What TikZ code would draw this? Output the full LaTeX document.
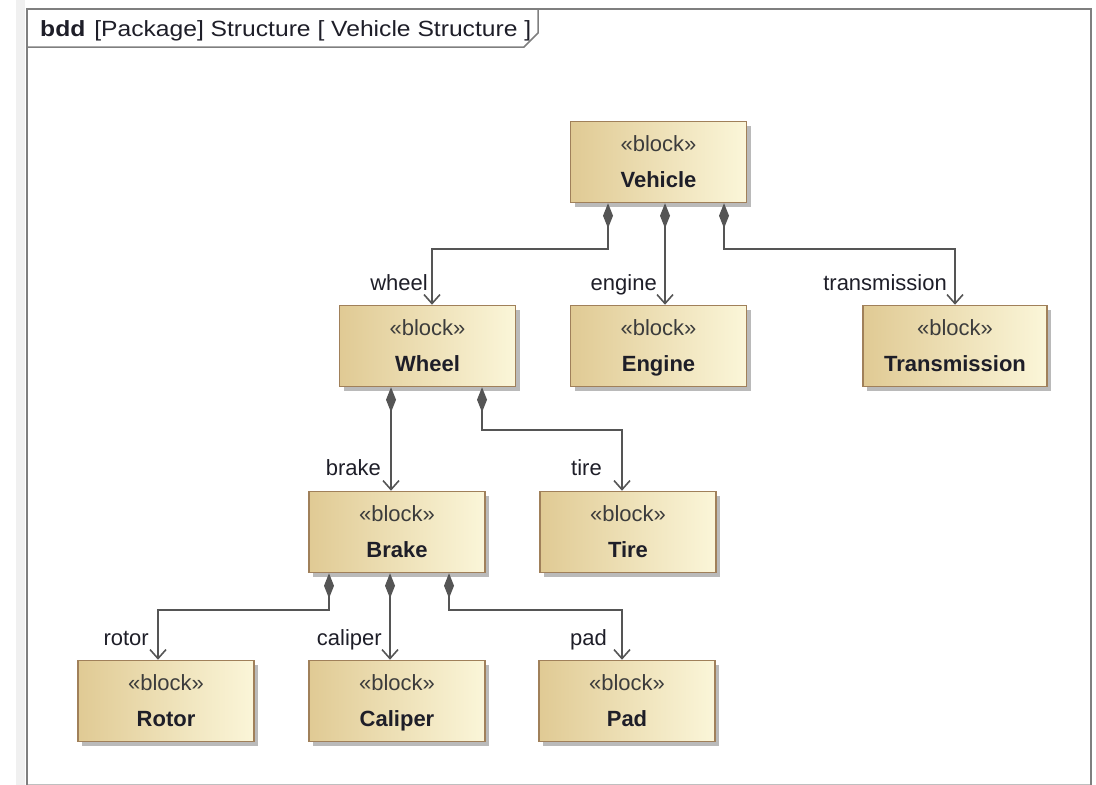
\documentclass[tikz,border=0pt]{standalone}
\usepackage{fontspec}
\setmainfont{Liberation Sans}
\usetikzlibrary{arrows.meta,shadows,calc}
\definecolor{boxL}{HTML}{E0CA94}
\definecolor{boxR}{HTML}{FBF6D9}
\definecolor{boxB}{HTML}{A0805A}
\definecolor{lineC}{HTML}{555555}
\definecolor{frameC}{HTML}{7F7F7F}
\definecolor{stereoC}{HTML}{3C3C3C}
\definecolor{txtC}{HTML}{1E1E28}
\newcommand{\blocktext}[1]{\strut\textcolor{stereoC}{«block»}\\\strut\textbf{#1}}
\begin{document}
\begin{tikzpicture}[x=1pt,y=-1pt,
 blk/.style={rectangle, draw=boxB, line width=1.5pt, left color=boxL, right color=boxR,
   minimum width=176pt, minimum height=81pt, align=center, inner sep=0pt,
   font=\fontsize{22}{36}\selectfont, text=txtC,
   drop shadow={shadow xshift=4pt, shadow yshift=-4pt, fill=black!45, opacity=0.6}},
 comp/.style={draw=lineC, line width=1.6pt,
   {Diamond[length=25pt,width=10pt,fill=lineC]}-{Straight Barb[length=9pt,width=16pt]}},
 lbl/.style={font=\fontsize{22}{26}\selectfont, text=txtC, anchor=base east, inner sep=0pt}]
\useasboundingbox (0,0) rectangle (1096,785);
\fill[black!6] (16,0) rectangle (25,785);
% frame
\draw[black!25, line width=1pt] (27,784) -- (1091,784);
\draw[frameC, line width=2pt] (27,785) -- (27,9) -- (1091,9) -- (1091,785);
\draw[frameC, line width=1.5pt] (27,47) -- (524,47) -- (538,33) -- (538,9);
\node[anchor=base west, inner sep=0pt, font=\fontsize{22}{24}\selectfont, text=txtC] (hdr) at (40,36)
  {\scalebox{1.12}[1]{\textbf{bdd}\hspace{8pt}[Package] Structure [ Vehicle Structure ]}};
% blocks
\node[blk] (vehicle) at (658.5,162) {\blocktext{Vehicle}};
\node[blk] (wheel) at (427.5,346) {\blocktext{Wheel}};
\node[blk] (engine) at (658.5,346) {\blocktext{Engine}};
\node[blk, minimum width=184pt] (transmission) at (955,346) {\blocktext{Transmission}};
\node[blk] (brake) at (397,532) {\blocktext{Brake}};
\node[blk] (tire) at (628,532) {\blocktext{Tire}};
\node[blk] (rotor) at (166,701) {\blocktext{Rotor}};
\node[blk] (caliper) at (397,701) {\blocktext{Caliper}};
\node[blk] (pad) at (627,701) {\blocktext{Pad}};
% connector end points
\coordinate (vW) at ($(vehicle.south)+(-50.5,0)$);
\coordinate (vE) at ($(vehicle.south)+(6.5,0)$);
\coordinate (vT) at ($(vehicle.south)+(65.5,0)$);
\coordinate (wT) at ($(wheel.north)+(4.5,0)$);
\coordinate (eT) at ($(engine.north)+(6.5,0)$);
\coordinate (tT) at (transmission.north);
\coordinate (wB) at ($(wheel.south)+(-36.5,0)$);
\coordinate (wR) at ($(wheel.south)+(54.5,0)$);
\coordinate (bT) at ($(brake.north)+(-6,0)$);
\coordinate (tiT) at ($(tire.north)+(-6,0)$);
\coordinate (bR) at ($(brake.south)+(-68,0)$);
\coordinate (bC) at ($(brake.south)+(-7,0)$);
\coordinate (bP) at ($(brake.south)+(52,0)$);
\coordinate (rT) at ($(rotor.north)+(-8,0)$);
\coordinate (cT) at ($(caliper.north)+(-7,0)$);
\coordinate (pT) at ($(pad.north)+(-5,0)$);
% connectors
\draw[comp] (vW) -- ++(0,46) -| (wT);
\draw[comp] (vE) -- (eT);
\draw[comp] (vT) -- ++(0,46) -| (tT);
\draw[comp] (wB) -- (bT);
\draw[comp] (wR) -- ++(0,43) -| (tiT);
\draw[comp] (bR) -- ++(0,37) -| (rT);
\draw[comp] (bC) -- (cT);
\draw[comp] (bP) -- ++(0,37) -| (pT);
% role labels
\node[lbl] (lwheel) at ($(wT)+(-4,-14)$) {wheel};
\node[lbl] (lengine) at ($(eT)+(-8,-14)$) {engine};
\node[lbl] (ltrans) at ($(tT)+(-8,-14)$) {transmission};
\node[lbl] (lbrake) at ($(bT)+(-10,-15)$) {brake};
\node[lbl] (ltire) at ($(tiT)+(-20,-15)$) {tire};
\node[lbl] (lrotor) at ($(rT)+(-9,-14)$) {rotor};
\node[lbl] (lcal) at ($(cT)+(-8,-14)$) {caliper};
\node[lbl] (lpad) at ($(pT)+(-15,-14)$) {pad};
\end{tikzpicture}
\end{document}
